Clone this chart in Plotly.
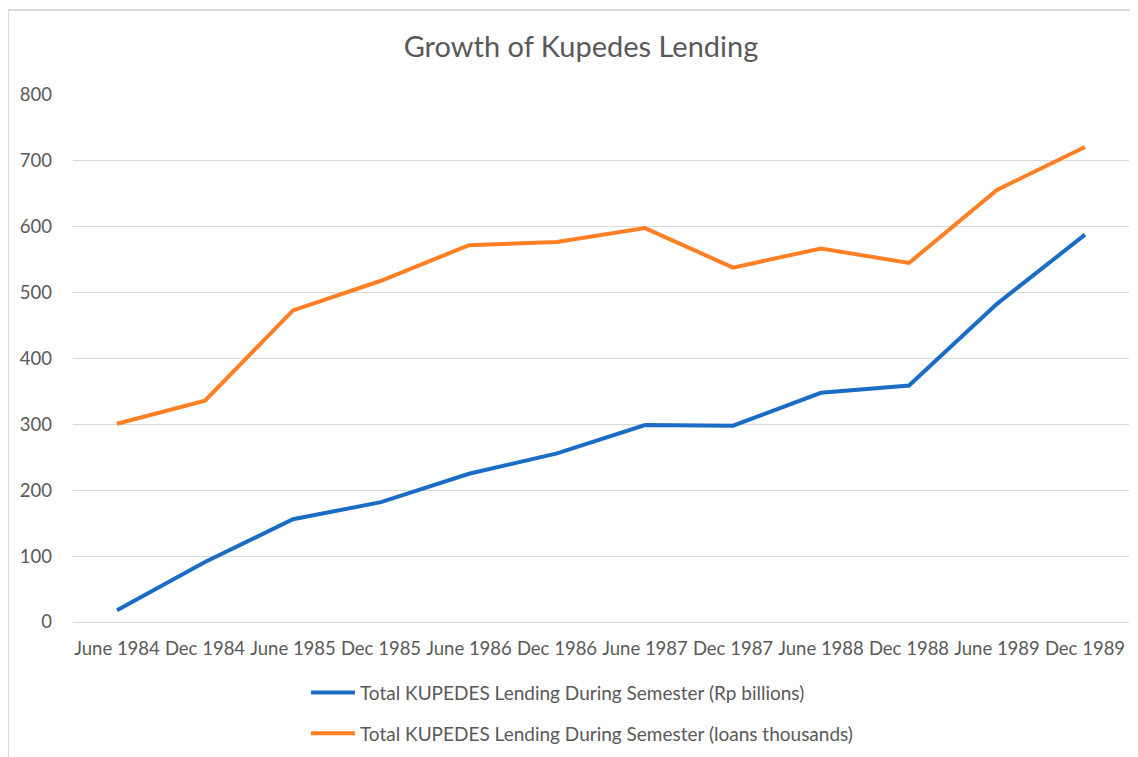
import plotly.graph_objects as go

categories = ["June 1984", "Dec 1984", "June 1985", "Dec 1985", "June 1986", "Dec 1986",
              "June 1987", "Dec 1987", "June 1988", "Dec 1988", "June 1989", "Dec 1989"]
lending_rp_billions = [18, 91, 156, 182, 225, 256, 299, 298, 348, 359, 483, 588]
loans_thousands = [301, 336, 473, 518, 572, 577, 598, 538, 567, 545, 656, 721]

series_names = ["Total KUPEDES Lending During Semester (Rp billions)",
                "Total KUPEDES Lending During Semester (loans thousands)"]

FONT = "Lato, 'Open Sans', sans-serif"

fig = go.Figure()
fig.add_trace(go.Scatter(x=categories, y=lending_rp_billions, mode="lines",
                         name=series_names[0], legendgroup="a",
                         line=dict(color="#1a6cc4", width=4)))
fig.add_trace(go.Scatter(x=categories, y=loans_thousands, mode="lines",
                         name=series_names[1], legendgroup="b",
                         line=dict(color="#ff7f24", width=4)))

fig.update_layout(
    width=1138, height=757,
    margin=dict(l=65, r=17, t=87, b=143),
    paper_bgcolor="white", plot_bgcolor="white",
    font=dict(family=FONT, color="#595959", size=18),
    title=dict(text="Growth of Kupedes Lending", x=0.5035, xanchor="center",
               y=1 - 39 / 757, yanchor="middle", yref="container",
               font=dict(size=29, color="#595959", family=FONT)),
    showlegend=True,
    legend=dict(orientation="v", x=0.2206, xanchor="left", y=-0.098, yanchor="top",
                font=dict(size=19, color="#595959"), tracegroupgap=13,
                itemwidth=44, bgcolor="rgba(0,0,0,0)"),
    shapes=[dict(type="rect", xref="paper", yref="paper",
                 x0=-0.0616, x1=1.2, y0=-0.6, y1=1.1613,
                 line=dict(color="#d9d9d9", width=2), layer="below")],
)
fig.update_xaxes(type="category", showgrid=False, showline=False, zeroline=False,
                 ticks="", ticklabelstandoff=13, range=[-0.5, 11.5],
                 tickfont=dict(size=18.5, color="#595959"))
fig.update_yaxes(range=[0, 800], dtick=100, showgrid=True, gridcolor="#d9d9d9",
                 gridwidth=1, zeroline=True, zerolinecolor="#d9d9d9", zerolinewidth=1,
                 showline=False, ticks="", ticklabelstandoff=20,
                 tickfont=dict(size=18.5, color="#595959"))

fig.write_html("out.html")
